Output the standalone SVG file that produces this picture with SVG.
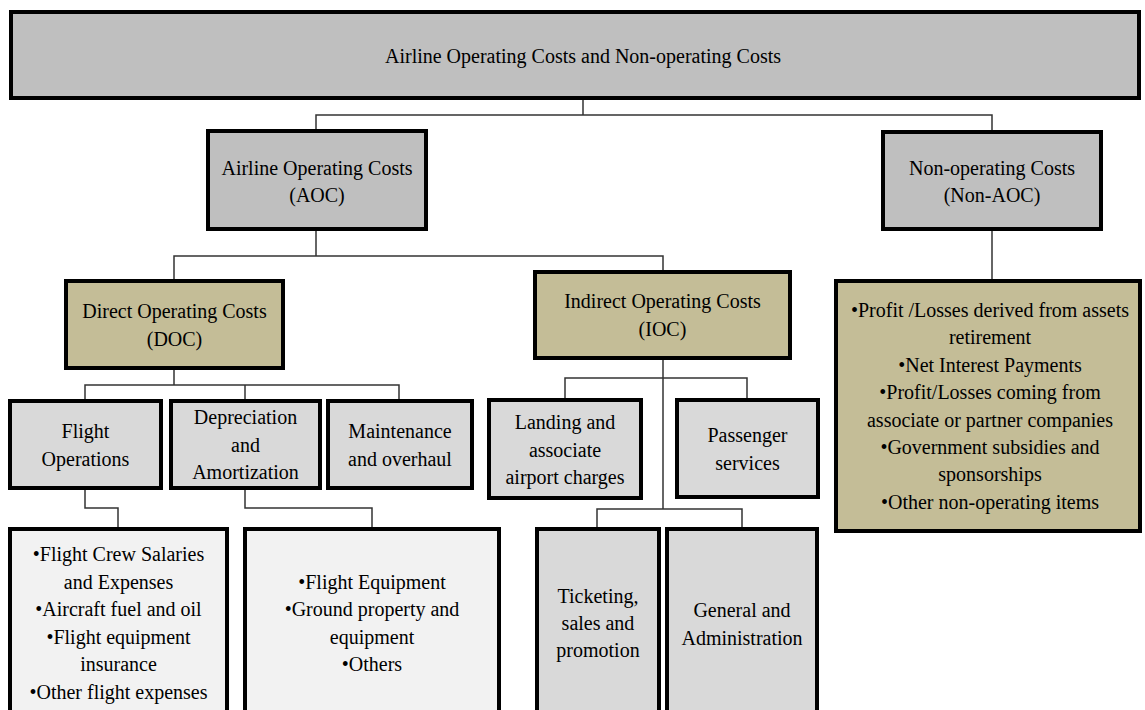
<svg xmlns="http://www.w3.org/2000/svg" width="1145" height="710" viewBox="0 0 1145 710">
<style>
.box{stroke:#000;stroke-width:4}
.g1{fill:#bfbfbf}
.tan{fill:#c4bd97}
.g2{fill:#d9d9d9}
.g3{fill:#f2f2f2}
text{font-family:"Liberation Serif","Times New Roman",serif;font-size:20px;fill:#000;text-anchor:middle}
.conn{fill:none;stroke:#333;stroke-width:1.5}
</style>
<rect width="1145" height="710" fill="#fff"/>
<g id="connectors">
<polyline class="conn" points="583,98 583,115"/>
<polyline class="conn" points="316,131 316,115 992,115 992,132"/>
<polyline class="conn" points="992,229 992,281"/>
<polyline class="conn" points="316,229 316,256"/>
<polyline class="conn" points="174,281 174,256 663,256 663,272"/>
<polyline class="conn" points="174,368 174,385"/>
<polyline class="conn" points="85,401 85,385 399,385 399,401"/>
<polyline class="conn" points="245,385 245,401"/>
<polyline class="conn" points="663,358 663,509"/>
<polyline class="conn" points="565,400 565,378 747,378 747,400"/>
<polyline class="conn" points="597,529 597,509 742,509 742,529"/>
<polyline class="conn" points="85,488 85,508 118,508 118,529"/>
<polyline class="conn" points="245,488 245,508 372,508 372,529"/>
</g>
<g id="n-top"><rect class="box g1" x="11" y="12" width="1128" height="86"/>
<text x="583" y="63">Airline Operating Costs and Non-operating Costs</text></g>
<g id="n-aoc"><rect class="box g1" x="208" y="131" width="218" height="98"/>
<text x="317" y="175">Airline Operating Costs</text><text x="317" y="202">(AOC)</text></g>
<g id="n-nonaoc"><rect class="box g1" x="883" y="132" width="218" height="97"/>
<text x="992" y="175">Non-operating Costs</text><text x="992" y="202">(Non-AOC)</text></g>
<g id="n-nonaoc-list"><rect class="box tan" x="836" y="281" width="304" height="250"/>
<text x="990" y="317">•Profit /Losses derived from assets</text>
<text x="990" y="344.4">retirement</text>
<text x="990" y="371.8">•Net Interest Payments</text>
<text x="990" y="399.2">•Profit/Losses coming  from</text>
<text x="990" y="426.6">associate or partner companies</text>
<text x="990" y="454">•Government subsidies and</text>
<text x="990" y="481.4">sponsorships</text>
<text x="990" y="508.8">•Other non-operating items</text></g>
<g id="n-doc"><rect class="box tan" x="66" y="281" width="217" height="87"/>
<text x="174.5" y="318">Direct Operating Costs</text><text x="174.5" y="346">(DOC)</text></g>
<g id="n-ioc"><rect class="box tan" x="535" y="272" width="255" height="86"/>
<text x="662.5" y="308">Indirect Operating Costs</text><text x="662.5" y="336">(IOC)</text></g>
<g id="n-flightops"><rect class="box g2" x="10" y="401" width="151" height="87"/>
<text x="85.5" y="438">Flight</text><text x="85.5" y="466">Operations</text></g>
<g id="n-depr"><rect class="box g2" x="171" y="401" width="149" height="87"/>
<text x="245.5" y="424">Depreciation</text><text x="245.5" y="451.5">and</text><text x="245.5" y="479">Amortization</text></g>
<g id="n-maint"><rect class="box g2" x="328" y="401" width="144" height="87"/>
<text x="400" y="438">Maintenance</text><text x="400" y="466">and overhaul</text></g>
<g id="n-landing"><rect class="box g2" x="489" y="400" width="152" height="98"/>
<text x="565" y="429">Landing and</text><text x="565" y="456.5">associate</text><text x="565" y="484">airport charges</text></g>
<g id="n-pass"><rect class="box g2" x="677" y="400" width="141" height="97"/>
<text x="747.5" y="442">Passenger</text><text x="747.5" y="470">services</text></g>
<g id="n-crew"><rect class="box g3" x="10" y="529" width="217" height="195"/>
<text x="118.5" y="561">•Flight Crew Salaries</text>
<text x="118.5" y="588.6">and Expenses</text>
<text x="118.5" y="616.2">•Aircraft fuel and oil</text>
<text x="118.5" y="643.8">•Flight equipment</text>
<text x="118.5" y="671.4">insurance</text>
<text x="118.5" y="699">•Other flight expenses</text></g>
<g id="n-equip"><rect class="box g3" x="245" y="529" width="254" height="195"/>
<text x="372" y="588.6">•Flight Equipment</text>
<text x="372" y="616.2">•Ground property and</text>
<text x="372" y="643.8">equipment</text>
<text x="372" y="671.4">•Others</text></g>
<g id="n-ticket"><rect class="box g2" x="537" y="529" width="122" height="195"/>
<text x="598" y="603">Ticketing,</text><text x="598" y="630">sales and</text><text x="598" y="657">promotion</text></g>
<g id="n-general"><rect class="box g2" x="667" y="529" width="150" height="195"/>
<text x="742" y="617">General and</text><text x="742" y="645">Administration</text></g>
</svg>
